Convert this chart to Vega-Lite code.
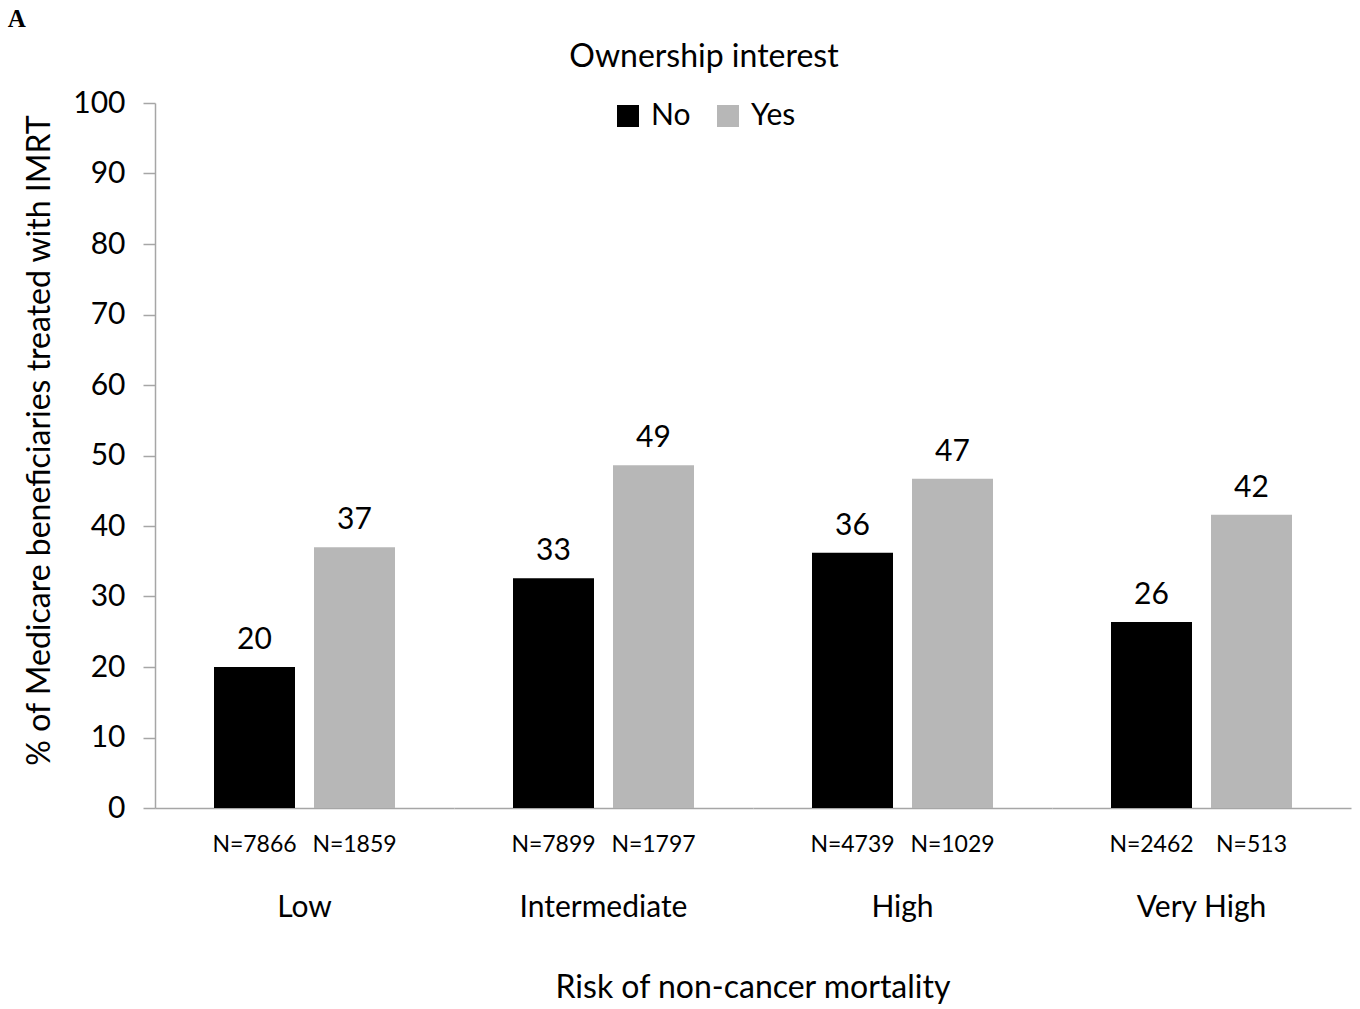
{
  "$schema": "https://vega.github.io/schema/vega-lite/v6.json",
  "background": "white",
  "padding": {"left": 7, "top": 7, "right": 5, "bottom": 0},
  "title": {"text": "A", "anchor": "start", "frame": "bounds", "font": "Liberation Serif", "fontSize": 25, "fontWeight": "bold", "color": "black", "offset": 10, "dx": -16},
  "data": {"values": [
    {"group": "Low", "ownership": "No", "pct": 20.0, "n": "N=7866"},
    {"group": "Low", "ownership": "Yes", "pct": 37.0, "n": "N=1859"},
    {"group": "Intermediate", "ownership": "No", "pct": 32.6, "n": "N=7899"},
    {"group": "Intermediate", "ownership": "Yes", "pct": 48.6, "n": "N=1797"},
    {"group": "High", "ownership": "No", "pct": 36.2, "n": "N=4739"},
    {"group": "High", "ownership": "Yes", "pct": 46.7, "n": "N=1029"},
    {"group": "Very High", "ownership": "No", "pct": 26.4, "n": "N=2462"},
    {"group": "Very High", "ownership": "Yes", "pct": 41.6, "n": "N=513"}
  ]},
  "facet": {
    "column": {
      "field": "group", "type": "nominal",
      "sort": ["Low", "Intermediate", "High", "Very High"],
      "title": "Risk of non-cancer mortality",
      "header": {
        "labelOrient": "bottom", "titleOrient": "bottom",
        "labelFont": "Lato", "labelFontSize": 30, "labelColor": "black", "labelPadding": 37,
        "titleFont": "Lato", "titleFontSize": 32, "titleFontWeight": "normal", "titleColor": "black", "titlePadding": 40
      }
    }
  },
  "spacing": 0,
  "resolve": {"scale": {"x": "independent"}},
  "spec": {
    "width": 299,
    "height": 705,
    "encoding": {
      "x": {
        "field": "n", "type": "nominal",
        "sort": ["N=7866", "N=1859", "N=7899", "N=1797", "N=4739", "N=1029", "N=2462", "N=513"],
        "scale": {"paddingInner": 0.19, "paddingOuter": 0.59},
        "axis": {"title": null, "labelAngle": 0, "ticks": false, "domainColor": "#a6a6a6", "domainWidth": 1.5, "labelFont": "Lato", "labelFontSize": 23, "labelColor": "black", "labelPadding": 25}
      },
      "y": {
        "field": "pct", "type": "quantitative",
        "scale": {"domain": [0, 100]},
        "title": "% of Medicare beneficiaries treated with IMRT",
        "axis": {"values": [0, 10, 20, 30, 40, 50, 60, 70, 80, 90, 100], "grid": false, "domainColor": "#a6a6a6", "domainWidth": 1.5, "tickColor": "#a6a6a6", "tickWidth": 1.5, "tickSize": 12, "labelFont": "Lato", "labelFontSize": 30, "labelColor": "black", "labelPadding": 18, "titleFont": "Lato", "titleFontSize": 32, "titleFontWeight": "normal", "titleColor": "black", "titlePadding": 16, "titleY": 337}
      }
    },
    "layer": [
      {
        "mark": {"type": "bar"},
        "encoding": {
          "color": {
            "field": "ownership", "type": "nominal",
            "scale": {"domain": ["No", "Yes"], "range": ["#000000", "#b7b7b7"]},
            "legend": {"title": "Ownership interest", "orient": "none", "legendX": 414, "legendY": -61, "direction": "horizontal", "titleAnchor": "middle", "titleLimit": 600, "titleFont": "Lato", "titleFontSize": 32, "titleFontWeight": "normal", "titleColor": "black", "titlePadding": 27, "labelFont": "Lato", "labelFontSize": 30, "labelColor": "black", "symbolType": "square", "symbolSize": 484, "symbolStrokeWidth": 0, "symbolOpacity": 1, "labelOffset": 8, "columnPadding": 22, "padding": 0}
          }
        }
      },
      {
        "mark": {"type": "text", "baseline": "alphabetic", "dy": -18, "font": "Lato", "fontSize": 30, "color": "black"},
        "encoding": {"text": {"field": "pct", "type": "quantitative", "format": ".0f"}}
      }
    ]
  },
  "config": {"view": {"stroke": null}, "font": "Lato"}
}
